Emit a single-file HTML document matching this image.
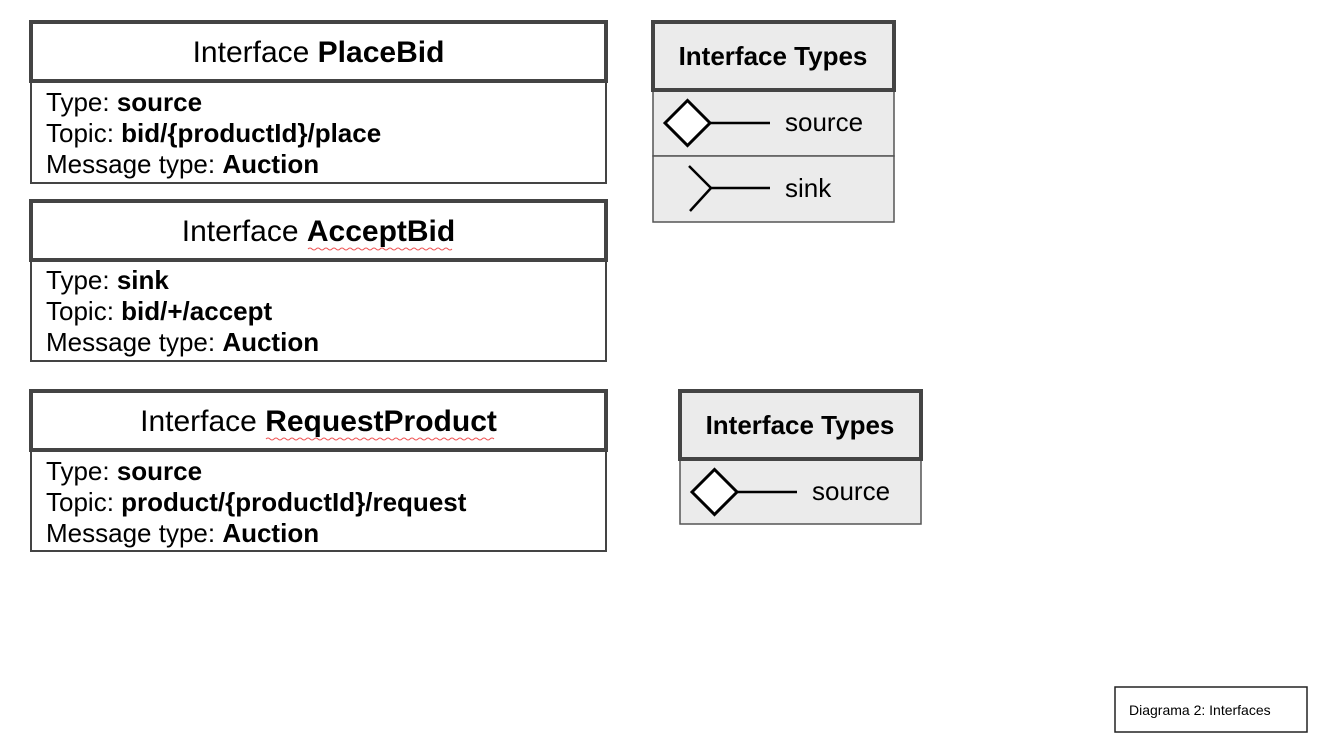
<!DOCTYPE html>
<html><head><meta charset="utf-8"><style>
html,body{margin:0;padding:0;background:#fff;}
svg text, svg tspan{font-family:"Liberation Sans",Arial,Helvetica,sans-serif;}
</style></head><body>
<svg width="1321" height="740" viewBox="0 0 1321 740" xmlns="http://www.w3.org/2000/svg" font-family="Liberation Sans, Arial, sans-serif">
<rect width="1321" height="740" fill="#fff"/>
<!-- PlaceBid -->
<rect x="31" y="81" width="575" height="102" fill="#fff" stroke="#444" stroke-width="2"/>
<rect x="31" y="22" width="575" height="59" fill="#fff" stroke="#444" stroke-width="4"/>
<text x="318.5" y="62" font-size="30" text-anchor="middle">Interface <tspan font-weight="bold">PlaceBid</tspan></text>
<text x="46" y="111" font-size="26">Type: <tspan font-weight="bold">source</tspan></text>
<text x="46" y="142" font-size="26">Topic: <tspan font-weight="bold">bid/{productId}/place</tspan></text>
<text x="46" y="173" font-size="26">Message type: <tspan font-weight="bold">Auction</tspan></text>
<!-- AcceptBid -->
<rect x="31" y="260" width="575" height="101" fill="#fff" stroke="#444" stroke-width="2"/>
<rect x="31" y="201" width="575" height="59" fill="#fff" stroke="#444" stroke-width="4"/>
<text x="318.5" y="241" font-size="30" text-anchor="middle">Interface <tspan font-weight="bold">AcceptBid</tspan></text>
<path d="M308 249 q2 -2 4 0 t4 0 t4 0 t4 0 t4 0 t4 0 t4 0 t4 0 t4 0 t4 0 t4 0 t4 0 t4 0 t4 0 t4 0 t4 0 t4 0 t4 0 t4 0 t4 0 t4 0 t4 0 t4 0 t4 0 t4 0 t4 0 t4 0 t4 0 t4 0 t4 0 t4 0 t4 0 t4 0 t4 0 t4 0 t4 0" fill="none" stroke="#e55" stroke-width="1"/>
<text x="46" y="289" font-size="26">Type: <tspan font-weight="bold">sink</tspan></text>
<text x="46" y="320" font-size="26">Topic: <tspan font-weight="bold">bid/+/accept</tspan></text>
<text x="46" y="351" font-size="26">Message type: <tspan font-weight="bold">Auction</tspan></text>
<!-- RequestProduct -->
<rect x="31" y="450" width="575" height="101" fill="#fff" stroke="#444" stroke-width="2"/>
<rect x="31" y="391" width="575" height="59" fill="#fff" stroke="#444" stroke-width="4"/>
<text x="318.5" y="431" font-size="30" text-anchor="middle">Interface <tspan font-weight="bold">RequestProduct</tspan></text>
<path d="M266 439 q2 -2 4 0 t4 0 t4 0 t4 0 t4 0 t4 0 t4 0 t4 0 t4 0 t4 0 t4 0 t4 0 t4 0 t4 0 t4 0 t4 0 t4 0 t4 0 t4 0 t4 0 t4 0 t4 0 t4 0 t4 0 t4 0 t4 0 t4 0 t4 0 t4 0 t4 0 t4 0 t4 0 t4 0 t4 0 t4 0 t4 0 t4 0 t4 0 t4 0 t4 0 t4 0 t4 0 t4 0 t4 0 t4 0 t4 0 t4 0 t4 0 t4 0 t4 0 t4 0 t4 0 t4 0 t4 0 t4 0 t4 0 t4 0" fill="none" stroke="#e55" stroke-width="1"/>
<text x="46" y="480" font-size="26">Type: <tspan font-weight="bold">source</tspan></text>
<text x="46" y="511" font-size="26">Topic: <tspan font-weight="bold">product/{productId}/request</tspan></text>
<text x="46" y="542" font-size="26">Message type: <tspan font-weight="bold">Auction</tspan></text>
<!-- Interface Types 1 -->
<rect x="653" y="90" width="241" height="66" fill="#ebebeb" stroke="#555" stroke-width="1.5"/>
<rect x="653" y="156" width="241" height="66" fill="#ebebeb" stroke="#555" stroke-width="1.5"/>
<rect x="653" y="22" width="241" height="68" fill="#ebebeb" stroke="#444" stroke-width="4"/>
<text x="773" y="65" font-size="26" font-weight="bold" text-anchor="middle">Interface Types</text>
<polygon points="665,123 687.5,100.5 710,123 687.5,145.5" fill="#fff" stroke="#000" stroke-width="3"/>
<line x1="710" y1="123" x2="770" y2="123" stroke="#000" stroke-width="2.5"/>
<text x="785" y="131" font-size="26">source</text>
<polyline points="689,166 711,188 690,211" fill="none" stroke="#000" stroke-width="2.5"/>
<line x1="711" y1="188" x2="770" y2="188" stroke="#000" stroke-width="2.5"/>
<text x="785" y="197" font-size="26">sink</text>
<!-- Interface Types 2 -->
<rect x="680" y="459" width="241" height="65" fill="#ebebeb" stroke="#555" stroke-width="1.5"/>
<rect x="680" y="391" width="241" height="68" fill="#ebebeb" stroke="#444" stroke-width="4"/>
<text x="800" y="434" font-size="26" font-weight="bold" text-anchor="middle">Interface Types</text>
<polygon points="692,492 714.5,469.5 737,492 714.5,514.5" fill="#fff" stroke="#000" stroke-width="3"/>
<line x1="737" y1="492" x2="797" y2="492" stroke="#000" stroke-width="2.5"/>
<text x="812" y="500" font-size="26">source</text>
<!-- footnote -->
<rect x="1115" y="687" width="192" height="45" fill="#fff" stroke="#222" stroke-width="1.5"/>
<text x="1129" y="715" font-size="14">Diagrama 2: Interfaces</text>
</svg>
</body></html>
